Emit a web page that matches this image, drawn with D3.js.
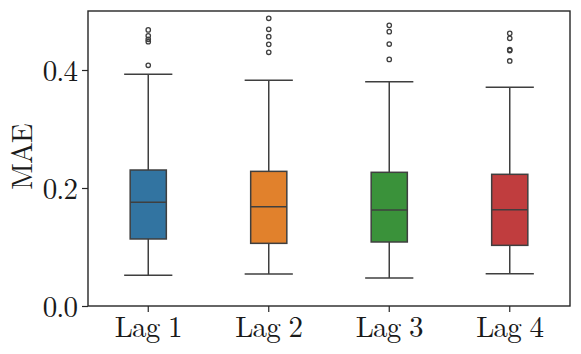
<!DOCTYPE html>
<html><head><meta charset="utf-8">
<script src="https://cdn.jsdelivr.net/npm/d3@7"></script>
<style>body{margin:0;background:#fff}svg{display:block}</style>
</head><body>
<script>
const categories = ["Lag 1","Lag 2","Lag 3","Lag 4"];
const q1 =      [0.1136, 0.1062, 0.1085, 0.1028];
const median =  [0.1757, 0.1684, 0.1627, 0.1633];
const q3 =      [0.2305, 0.2282, 0.2266, 0.2232];
const whiskLo = [0.0520, 0.0542, 0.0475, 0.0548];
const whiskHi = [0.3927, 0.3825, 0.3800, 0.3706];
const outliers = [
  [0.408, 0.448, 0.452, 0.458, 0.468],
  [0.430, 0.4435, 0.4565, 0.469, 0.4876],
  [0.418, 0.444, 0.465, 0.4757],
  [0.4153, 0.4330, 0.4345, 0.4537, 0.4621]
];
const colors = ["#3274a1","#e1812c","#3a923a","#c03d3e"];
const yTicks = [0.0, 0.2, 0.4];

const W=581,H=354, m={l:88,r:11,t:11,b:48};
const svg=d3.select("body").append("svg").attr("width",W).attr("height",H);
const x=d3.scaleBand().domain(categories).range([m.l,W-m.r]).padding(0);
const y=d3.scaleLinear().domain([0,0.5]).range([H-m.b,m.t]);
const font="'Latin Modern Roman', 'Liberation Serif', serif";
const edge="#3f3f3f";

const g=svg.append("g");
categories.forEach((c,i)=>{
  const cx=x(c)+x.bandwidth()/2, bw=x.bandwidth()*0.3, cw=x.bandwidth()*0.4;
  g.append("line").attr("x1",cx).attr("x2",cx).attr("y1",y(whiskLo[i])).attr("y2",y(q1[i])).attr("stroke",edge).attr("stroke-width",1.5);
  g.append("line").attr("x1",cx).attr("x2",cx).attr("y1",y(q3[i])).attr("y2",y(whiskHi[i])).attr("stroke",edge).attr("stroke-width",1.5);
  [whiskLo[i],whiskHi[i]].forEach(v=>g.append("line").attr("x1",cx-cw/2).attr("x2",cx+cw/2).attr("y1",y(v)).attr("y2",y(v)).attr("stroke",edge).attr("stroke-width",1.5));
  g.append("rect").attr("x",cx-bw/2).attr("width",bw).attr("y",y(q3[i])).attr("height",y(q1[i])-y(q3[i]))
    .attr("fill",colors[i]).attr("stroke",edge).attr("stroke-width",1.5);
  g.append("line").attr("x1",cx-bw/2).attr("x2",cx+bw/2).attr("y1",y(median[i])).attr("y2",y(median[i])).attr("stroke",edge).attr("stroke-width",1.5);
  outliers[i].forEach(v=>g.append("circle").attr("cx",cx).attr("cy",y(v)).attr("r",2.2).attr("fill","none").attr("stroke",edge).attr("stroke-width",1.3));
});

svg.append("rect").attr("x",m.l).attr("y",m.t).attr("width",W-m.l-m.r).attr("height",H-m.t-m.b)
  .attr("fill","none").attr("stroke","#262626").attr("stroke-width",1.4);

const xa=svg.append("g").attr("transform",`translate(0,${H-m.b})`).call(d3.axisBottom(x).tickSize(6).tickPadding(4));
const ya=svg.append("g").attr("transform",`translate(${m.l},0)`).call(d3.axisLeft(y).tickValues(yTicks).tickFormat(d3.format(".1f")).tickSize(6).tickPadding(5));
[xa,ya].forEach(a=>{a.attr("font-family",null).attr("font-size",null);a.select(".domain").remove();a.selectAll("line").attr("stroke","#262626").attr("stroke-width",1.2);
  a.selectAll("text").style("font-family",font).style("font-size","29px").style("letter-spacing","-0.9px").attr("fill","#1a1a1a");});
ya.selectAll("text").attr("dy","0.36em");

svg.append("text").attr("transform",`translate(31.5,157) rotate(-90)`).attr("text-anchor","middle")
  .style("font-family",font).style("font-size","29px").style("letter-spacing","-0.9px").attr("fill","#1a1a1a").text("MAE");
</script>
</body></html>
